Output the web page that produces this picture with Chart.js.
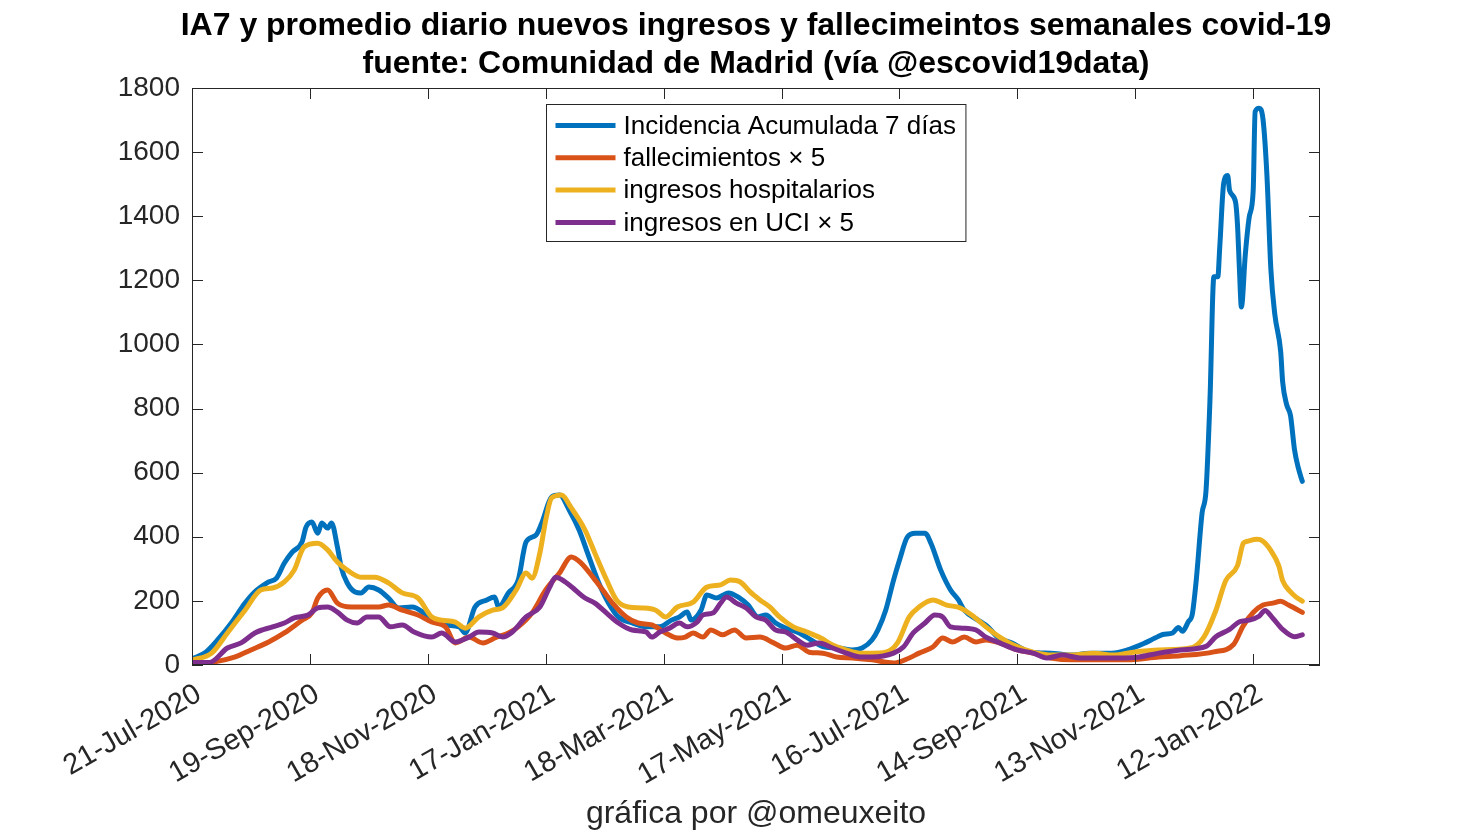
<!DOCTYPE html>
<html><head><meta charset="utf-8">
<script src="https://cdn.jsdelivr.net/npm/chart.js@4/dist/chart.umd.min.js"></script>
<style>html,body{margin:0;padding:0;background:#fff;}#wrap{width:1458px;height:833px;}</style>
</head><body><div id="wrap"><canvas id="c" width="1458" height="833"></canvas></div>
<script>
// Day 0 = 21-Jul-2020
const xTickDays = [0, 60, 120, 180, 240, 300, 360, 420, 480, 540];
const xTickLabels = ['21-Jul-2020','19-Sep-2020','18-Nov-2020','17-Jan-2021','18-Mar-2021','17-May-2021','16-Jul-2021','14-Sep-2021','13-Nov-2021','12-Jan-2022'];
const titleLines = ['IA7 y promedio diario nuevos ingresos y fallecimeintos semanales covid-19', 'fuente: Comunidad de Madrid (vía @escovid19data)'];
const xAxisTitle = 'gráfica por @omeuxeito';
const seriesLabels = ['Incidencia Acumulada 7 días', 'fallecimientos \u00D7 5', 'ingresos hospitalarios', 'ingresos en UCI \u00D7 5'];

const iaDays = [0,7,13,20,27,32,39,43,47,51,56,58,61,64,66,69,71,74,76,79,83,86,90,95,100,105,112,118,122,129,136,139,144,150,154,156,161,166,170,175,178,183,187,192,197,202,207,212,217,224,231,238,244,248,252,254,259,262,267,273,278,283,288,292,297,302,309,315,322,329,336,341,346,349,353,357,360,364,368,373,376,381,386,390,393,400,405,410,417,427,437,447,457,468,476,485,490,494,499,502,504,507,509,511,514,516,518,520,522,523,525,527,528,531,532,533,534,536,538,540,541,543,545,547,549,551,554,555,557,559,561,563,565];
const iaValues = [18,40,78,131,193,228,259,271,318,352,384,430,446,411,443,427,443,368,303,256,228,225,243,234,209,178,181,162,140,125,119,100,181,203,212,181,225,265,384,405,443,524,530,483,421,337,256,193,150,131,119,119,140,150,165,140,171,218,209,225,212,187,150,156,131,115,100,78,56,53,47,53,78,109,171,265,327,399,411,411,380,296,234,203,171,140,119,87,69,40,37,31,37,37,47,69,84,95,100,117,105,135,158,263,474,544,825,1211,1211,1305,1503,1527,1480,1445,1375,1234,1117,1281,1398,1480,1726,1737,1702,1527,1234,1094,977,883,813,778,673,614,573];

const fallDays = [0,10,22,30,39,47,56,61,64,69,74,81,88,95,100,107,115,122,129,134,141,148,155,161,166,173,180,187,193,198,204,209,214,221,227,234,241,247,251,255,260,264,270,276,282,289,296,302,308,314,321,328,336,346,357,365,370,377,382,387,393,399,404,411,420,428,437,448,462,476,492,503,520,530,535,540,545,550,554,558,560,565];
const fallValues = [3,8,25,47,72,100,140,162,209,234,193,181,181,181,187,171,156,134,119,69,87,69,87,100,119,162,234,287,337,318,274,234,193,150,131,125,100,84,87,100,87,109,94,109,84,87,69,53,62,40,37,25,22,16,6,22,37,56,84,72,87,72,78,69,47,37,22,16,16,16,25,29,41,64,123,164,187,193,199,187,181,164];

const hospDays = [0,10,18,27,35,41,47,52,57,64,69,74,79,86,93,100,107,115,122,127,134,139,146,153,158,165,170,173,177,180,183,188,193,200,205,211,216,222,229,236,241,247,255,262,269,274,279,284,289,294,299,306,313,320,326,333,340,346,353,359,365,370,377,384,391,398,404,411,418,428,438,448,459,469,479,492,508,515,521,526,532,535,537,542,545,549,553,555,559,562,565];
const hospValues = [15,37,100,171,234,240,259,296,368,380,359,321,296,274,274,256,225,209,150,140,134,115,150,171,178,234,287,271,349,452,521,530,490,421,349,265,203,181,178,171,150,181,196,243,250,265,259,228,203,181,150,119,103,84,62,47,37,37,40,69,150,181,203,187,178,150,119,87,62,40,31,31,37,31,40,47,53,88,170,263,310,380,386,392,386,357,310,263,228,211,199];

const uciDays = [0,9,18,25,32,41,47,52,59,64,69,74,79,84,89,95,101,107,113,122,127,134,141,146,153,158,163,170,177,182,185,190,195,200,205,211,217,224,231,234,238,243,248,252,257,260,265,269,272,277,282,287,292,297,302,308,313,319,326,333,340,346,357,362,367,373,378,382,386,392,399,404,411,420,428,435,443,452,462,472,482,492,503,516,521,528,533,538,543,546,550,555,561,565];
const uciValues = [8,8,53,69,100,119,131,147,156,178,181,165,140,131,150,150,119,125,103,87,100,72,87,103,100,87,103,150,181,243,274,259,234,209,193,162,131,109,103,87,103,115,131,119,134,156,162,193,212,193,178,150,140,109,103,78,62,69,53,37,25,25,37,56,100,131,156,150,119,115,109,87,69,47,37,22,31,22,22,22,25,37,47,58,88,111,135,140,152,170,146,111,88,94];

const colors = ['#0072BD', '#D95319', '#EDB120', '#7E2F8E'];
const FONT = "'Liberation Sans', Arial, Helvetica, sans-serif";
const AX = '#262626';

function pts(d, v) { return d.map((x, i) => ({ x: x, y: v[i] })); }

const framePlugin = {
  id: 'frame',
  afterDraw(chart) {
    const { ctx, chartArea: a, scales: { x, y } } = chart;
    ctx.save();
    ctx.strokeStyle = AX; ctx.lineWidth = 1;
    ctx.strokeRect(a.left + 0.5, a.top + 0.5, a.right - a.left - 1, a.bottom - a.top - 1);
    ctx.beginPath();
    y.ticks.forEach(t => {
      const p = Math.round(y.getPixelForValue(t.value)) + 0.5;
      ctx.moveTo(a.left, p); ctx.lineTo(a.left + 11, p);
      ctx.moveTo(a.right, p); ctx.lineTo(a.right - 11, p);
    });
    x.ticks.forEach(t => {
      const p = Math.round(x.getPixelForValue(t.value)) + 0.5;
      ctx.moveTo(p, a.bottom); ctx.lineTo(p, a.bottom - 11);
      ctx.moveTo(p, a.top); ctx.lineTo(p, a.top + 11);
    });
    ctx.stroke();
    // title
    const cx = (a.left + a.right) / 2;
    ctx.fillStyle = '#000';
    ctx.font = 'bold 32px ' + FONT;
    ctx.textAlign = 'center'; ctx.textBaseline = 'middle';
    ctx.fillText(titleLines[0], cx, 26);
    ctx.fillText(titleLines[1], cx, 64);
    // legend
    ctx.font = '26px ' + FONT;
    let maxW = 0;
    seriesLabels.forEach(s => { maxW = Math.max(maxW, ctx.measureText(s).width); });
    const bw = 77 + maxW + 10, bh = 137;
    const bx = Math.round(cx - bw / 2) + 0.5, by = a.top + 16.5;
    ctx.fillStyle = '#fff';
    ctx.fillRect(bx, by, bw, bh);
    ctx.strokeStyle = AX; ctx.lineWidth = 1;
    ctx.strokeRect(bx, by, bw, bh);
    ctx.textAlign = 'left';
    seriesLabels.forEach((s, i) => {
      const ry = by + 21 + i * 32.3;
      ctx.strokeStyle = colors[i]; ctx.lineWidth = 5; ctx.lineCap = 'butt';
      ctx.beginPath(); ctx.moveTo(bx + 9, ry); ctx.lineTo(bx + 69, ry); ctx.stroke();
      ctx.fillStyle = '#000';
      ctx.fillText(s, bx + 77, ry + 1);
    });
    ctx.restore();
  }
};

const mk = (i, d, v) => ({
  label: seriesLabels[i], data: pts(d, v), borderColor: colors[i], backgroundColor: colors[i],
  borderWidth: 5, pointRadius: 0, cubicInterpolationMode: 'monotone', borderJoinStyle: 'round', borderCapStyle: 'round',
  order: 4 - i
});

new Chart(document.getElementById('c'), {
  type: 'line',
  data: { datasets: [mk(0, iaDays, iaValues), mk(1, fallDays, fallValues), mk(2, hospDays, hospValues), mk(3, uciDays, uciValues)] },
  options: {
    responsive: false, animation: false, devicePixelRatio: 1,
    layout: { padding: { top: 88, right: 138, left: 0, bottom: 0 } },
    plugins: { legend: { display: false }, title: { display: false }, tooltip: { enabled: false } },
    scales: {
      x: {
        type: 'linear', min: 0, max: 574,
        afterBuildTicks: s => { s.ticks = xTickDays.map(v => ({ value: v })); },
        afterFit: s => { s.height = 168; },
        grid: { display: false, drawTicks: false },
        border: { display: false },
        ticks: {
          autoSkip: false, minRotation: 30, maxRotation: 30, padding: 12, labelOffset: 7,
          color: AX, font: { family: FONT, size: 29 },
          callback: v => { const k = xTickDays.indexOf(v); return k >= 0 ? xTickLabels[k] : ''; }
        },
        title: { display: true, text: xAxisTitle, color: AX, font: { family: FONT, size: 32 }, padding: { top: 0, bottom: 0 } }
      },
      y: {
        min: 0, max: 1800,
        afterFit: s => { s.width = 192; },
        grid: { display: false, drawTicks: false },
        border: { display: false },
        ticks: { stepSize: 200, padding: 12, color: AX, font: { family: FONT, size: 28 }, callback: v => String(v) }
      }
    }
  },
  plugins: [framePlugin]
});
</script></body></html>
